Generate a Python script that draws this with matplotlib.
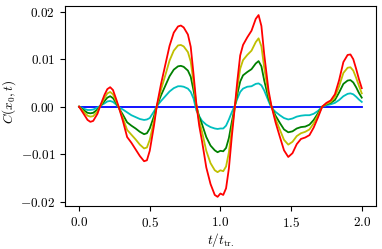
import matplotlib
matplotlib.use("Agg")
import matplotlib.pyplot as plt
import numpy as np

plt.rcParams.update({"font.family": "serif", "font.serif": ["cmr10", "DejaVu Serif"],
                     "mathtext.fontset": "cm", "axes.formatter.use_mathtext": True,
                     "font.size": 9.5, "axes.unicode_minus": True})

SCALE = 1e-3  # values below are read in units of 1e-3

t = [0.00, 0.03, 0.06, 0.08, 0.10, 0.13, 0.15, 0.18, 0.20, 0.22, 0.24, 0.26, 0.28, 0.31,
     0.34, 0.37, 0.40, 0.43, 0.46, 0.48, 0.50, 0.53, 0.55, 0.58, 0.61, 0.64, 0.67, 0.70,
     0.72, 0.74, 0.77, 0.79, 0.81, 0.83, 0.85, 0.87, 0.90, 0.93, 0.96, 0.98, 1.00, 1.02,
     1.04, 1.06, 1.08, 1.10, 1.12, 1.14, 1.16, 1.19, 1.22, 1.25, 1.27, 1.29, 1.31, 1.34,
     1.36, 1.39, 1.42, 1.45, 1.48, 1.51, 1.54, 1.57, 1.60, 1.63, 1.66, 1.69, 1.72, 1.75,
     1.78, 1.81, 1.84, 1.87, 1.90, 1.92, 1.94, 1.96, 1.98, 2.00]

c_red = [0, -1.4, -2.8, -3.2, -3.0, -1.5, 0.2, 2.5, 3.7, 4.1, 3.5, 1.8, 0.0, -3.0,
         -6.4, -7.6, -9.0, -10.4, -11.5, -11.3, -9.3, -4.0, 0.2, 4.8, 8.8, 12.8, 15.6, 16.9,
         17.1, 16.7, 15.2, 12.6, 6.8, 0.5, -4.0, -7.3, -12.8, -16.3, -18.6, -19.0, -18.3, -18.6,
         -17.2, -13.0, -6.5, -0.6, 5.5, 10.8, 13.0, 14.6, 16.0, 18.5, 19.3, 17.0, 11.0, 3.5,
         0.3, -3.3, -6.3, -9.2, -10.6, -9.8, -7.9, -6.8, -6.5, -6.0, -4.4, -2.3, 0.0, 0.8,
         1.3, 2.6, 5.6, 9.4, 10.9, 11.0, 10.0, 8.0, 5.8, 3.9]

c_yellow = [0, -1.0, -1.9, -2.1, -2.0, -1.0, 0.1, 1.8, 2.8, 3.1, 2.6, 1.3, -0.1, -2.4,
            -4.9, -5.9, -6.9, -8.0, -8.8, -8.6, -7.0, -3.0, 0.1, 3.6, 6.6, 9.7, 11.8, 12.9,
            13.0, 12.7, 11.5, 9.5, 5.1, 0.3, -3.0, -5.3, -9.3, -11.9, -13.4, -13.8, -13.4, -13.6,
            -12.6, -9.6, -4.9, -0.5, 4.0, 8.0, 9.8, 10.9, 11.8, 13.6, 14.4, 12.7, 8.2, 2.6,
            0.2, -2.6, -4.8, -7.0, -8.0, -7.4, -6.2, -5.6, -5.3, -4.8, -3.5, -1.8, 0.0, 0.6,
            1.0, 2.0, 4.3, 7.1, 8.2, 8.3, 7.6, 6.1, 4.4, 2.8]

c_green = [0, -0.7, -1.3, -1.4, -1.3, -0.6, 0.1, 1.2, 1.9, 2.2, 1.8, 0.9, -0.2, -1.7,
           -3.3, -4.0, -4.6, -5.3, -5.8, -5.6, -4.6, -2.0, 0.1, 2.4, 4.4, 6.4, 7.8, 8.5,
           8.6, 8.4, 7.6, 6.3, 3.4, 0.2, -2.2, -3.7, -6.4, -8.2, -9.2, -9.6, -9.3, -9.4,
           -8.7, -6.6, -3.3, -0.3, 2.7, 5.3, 6.6, 7.3, 7.9, 9.1, 9.6, 8.5, 5.5, 1.8,
           0.1, -1.9, -3.4, -4.8, -5.4, -5.2, -4.6, -4.3, -4.2, -3.8, -2.8, -1.4, 0.0, 0.5,
           0.8, 1.4, 3.0, 4.8, 5.5, 5.6, 5.1, 4.1, 2.9, 1.9]

c_cyan = [0, -0.4, -0.7, -0.7, -0.6, -0.2, 0.2, 0.7, 1.1, 1.2, 1.0, 0.5, -0.1, -0.6,
          -1.2, -1.8, -2.2, -2.6, -2.8, -2.7, -2.4, -1.0, 0.1, 1.2, 2.2, 3.2, 3.9, 4.3,
          4.3, 4.2, 3.8, 3.1, 1.7, -0.8, -2.0, -3.0, -3.8, -4.3, -4.6, -4.7, -4.6, -4.6,
          -4.0, -2.7, -1.2, 0.1, 1.7, 3.1, 3.8, 4.2, 4.3, 4.8, 4.9, 4.5, 3.4, 1.2,
          -0.2, -1.1, -1.8, -2.4, -2.7, -2.5, -2.1, -1.9, -1.8, -1.8, -1.5, -0.9, 0.0, 0.3,
          0.5, 0.8, 1.4, 2.2, 2.7, 2.8, 2.6, 2.1, 1.5, 1.0]

c_blue = [0.0] * len(t)

series = [(c_blue, "b"), (c_cyan, "c"), (c_green, "g"), (c_yellow, "y"), (c_red, "r")]

fig = plt.figure(figsize=(3.82, 2.49), dpi=100)
ax = fig.add_axes([0.170, 0.173, 0.814, 0.803])
tt = np.array(t)
for vals, col in series:
    ax.plot(tt, np.array(vals) * SCALE, color=col, lw=1.3)

ax.set_xticks([0.0, 0.5, 1.0, 1.5, 2.0])
ax.set_yticks([-0.02, -0.01, 0.0, 0.01, 0.02])
ax.set_xlabel(r"$t/t_{\mathrm{tr.}}$", labelpad=1)
ax.set_ylabel(r"$C(x_0, t)$")
ax.yaxis.set_label_coords(-0.150, 0.52)
fig.savefig("out.png", dpi=100)
